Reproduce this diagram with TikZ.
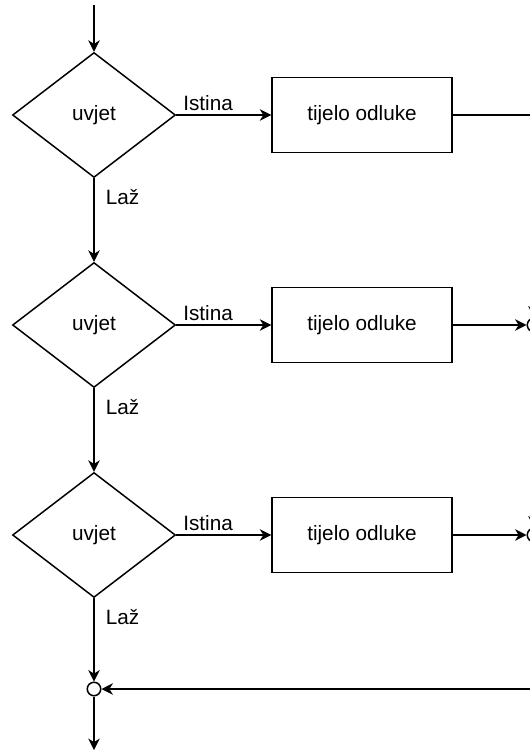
\documentclass[tikz,border=0pt]{standalone}
\usepackage{fontspec}
\setmainfont{Liberation Sans}
\usetikzlibrary{shapes.geometric,arrows.meta}

\begin{document}
\begin{tikzpicture}[x=0.02cm, y=-0.02cm]
	\tikzset{cond/.style = {draw, diamond, inner sep=0pt, line width=0.85pt,
	minimum width=3.26cm, minimum height=2.5cm},
	body/.style = {draw, rectangle, line width=0.85pt,
	minimum width=3.6cm, minimum height=1.5cm},
	joint/.style = {draw, circle, fill=white, inner sep=0pt, line width=0.85pt,
	minimum size=0.27cm},
	flow/.style = {line width=0.85pt, -{Stealth[length=6.5pt, width=6.5pt, inset=2pt]}},
	yes/.style = {anchor=south west, xshift=0.5pt, yshift=-1pt},
	every node/.style = {font=\fontsize{11.8}{14}\selectfont}}
	\useasboundingbox (0, 0) rectangle (530, 754);
	
	\coordinate (start) at (94, 5);
	\node[cond] (u1) at (94, 115) {uvjet};
	\node[cond] (u2) at (94, 325) {uvjet};
	\node[cond] (u3) at (94, 535) {uvjet};
	
	\node[body] (t1) at (362, 115) {tijelo odluke};
	\node[body] (t2) at (362, 325) {tijelo odluke};
	\node[body] (t3) at (362, 535) {tijelo odluke};
	
	\node[joint] (j2) at (534, 325) {};
	\node[joint] (j3) at (534, 535) {};
	\node[joint] (m) at (94, 689) {};
	\coordinate (corner) at (534, 115);
	\coordinate (end) at (94, 750);
	
	\draw[flow] (start) -- (u1.north);
	\draw[flow] (u1.east) -- (t1.west);
	\draw[flow] (u2.east) -- (t2.west);
	\draw[flow] (u3.east) -- (t3.west);
	\node[yes] at (u1.east) {Istina};
	\node[yes] at (u2.east) {Istina};
	\node[yes] at (u3.east) {Istina};
	\draw[flow] (u1.south) -- node[right, pos=0.22, xshift=3pt] {Laž} (u2.north);
	\draw[flow] (u2.south) -- node[right, pos=0.22, xshift=3pt] {Laž} (u3.north);
	\draw[flow] (u3.south) -- node[right, pos=0.22, xshift=3pt] {Laž} (m.north);
	\draw[flow] (m.south) -- (end);
	
	\draw[flow] (t1.east) -- (corner) -- (j2.north);
	\draw[flow] (t2.east) -- (j2.west);
	\draw[flow] (t3.east) -- (j3.west);
	\draw[flow] (j2.south) -- (j3.north);
	\draw[flow] (j3.south) |- (m.east);
\end{tikzpicture}
\end{document}
